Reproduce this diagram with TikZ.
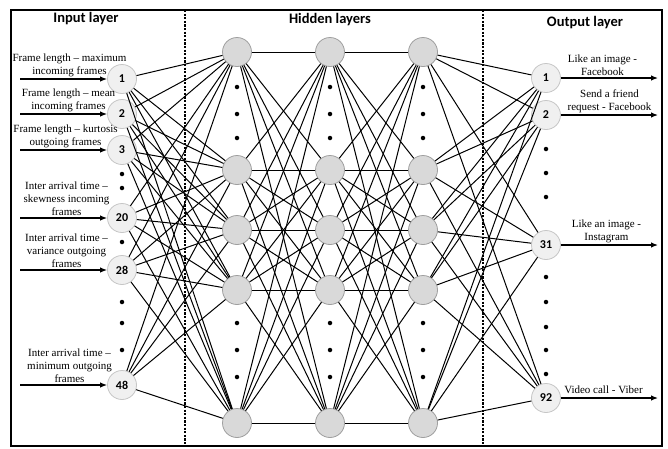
\documentclass[tikz,border=0pt]{standalone}
\usepackage{fontspec}
\setmainfont{Liberation Serif}
\newfontfamily\calibri{Carlito}
\usetikzlibrary{arrows.meta}

\begin{document}
\begin{tikzpicture}[
            x=1pt, y=-1pt,
            every node/.style={inner sep=0pt},
            endnode/.style={circle, draw=gray!45, fill=gray!12, minimum size=29pt, line width=0.8pt, font=\calibri\bfseries\fontsize{12}{14}\selectfont},
            hidnode/.style={circle, draw=gray!75, fill=gray!30, minimum size=29pt, line width=0.8pt},
            dot/.style={circle, fill=black, minimum size=4.5pt},
            link/.style={line width=1pt},
            feed/.style={line width=1.2pt, -{Latex[length=7pt,width=5.5pt]}},
            caption/.style={font=\fontsize{11}{13}\selectfont, align=center, anchor=south, inner sep=1.5pt},
            title/.style={font=\calibri\bfseries\fontsize{14.5}{16}\selectfont}
            ]
            \useasboundingbox (0,0) rectangle (668,448);
            \draw[line width=1.3pt] (11,10) rectangle (662,446);
            \draw[line width=1.6pt, dash pattern=on 2.2pt off 1.4pt] (185,10) -- (185,446);
            \draw[line width=1.6pt, dash pattern=on 2.2pt off 1.4pt] (483,10) -- (483,446);

            \node[title] (inputtitle) at (86,19) {Input layer};
            \node[title] (hiddentitle) at (330,20) {Hidden layers};
            \node[title] (outputtitle) at (585,23) {Output layer};

            % input layer
            \foreach \i/\y/\t in {1/79/1, 2/114/2, 3/150/3, 4/218/20, 5/270/28, 6/385/48}{
                \node[endnode] (inputnode-\i) at (122,\y) {\t};
                \coordinate (source-\i) at (20,\y);
            }
            \foreach \y in {174,188,242,302,323,350}{
                \node[dot] at (122,\y) {};
            }

            % hidden layers
            \foreach \c/\x in {1/237, 2/330, 3/423}{
                \foreach \r/\y in {1/52, 2/170, 3/230, 4/290, 5/423}{
                    \node[hidnode] (hiddennode\c-\r) at (\x,\y) {};
                }
                \foreach \y in {87,114,138,323,350,377}{
                    \node[dot] at (\x,\y) {};
                }
            }

            % output layer
            \foreach \i/\y/\t in {1/78/1, 2/115/2, 3/245/31, 4/398/92}{
                \node[endnode] (outputnode-\i) at (546,\y) {\t};
                \coordinate (target-\i) at (658,\y);
            }
            \foreach \y in {149,173,197,277,302,327,350,374}{
                \node[dot] at (546,\y) {};
            }

            % connections
            \foreach \i in {1,...,6}{
                \foreach \r in {1,...,5}{
                    \draw[link] (inputnode-\i) -- (hiddennode1-\r);
                }
            }
            \foreach \a/\b in {1/2, 2/3}{
                \foreach \r in {1,...,5}{
                    \foreach \s in {1,...,5}{
                        \draw[link] (hiddennode\a-\r) -- (hiddennode\b-\s);
                    }
                }
            }
            \foreach \r in {1,...,5}{
                \foreach \i in {1,...,4}{
                    \draw[link] (hiddennode3-\r) -- (outputnode-\i);
                }
            }

            % incoming features
            \draw[feed] (source-1) -- (inputnode-1) node[caption, midway, xshift=6pt] {Frame length -- maximum\\incoming frames};
            \draw[feed] (source-2) -- (inputnode-2) node[caption, midway, xshift=5pt] {Frame length -- mean\\incoming frames};
            \draw[feed] (source-3) -- (inputnode-3) node[caption, midway, xshift=2pt] {Frame length -- kurtosis\\outgoing frames};
            \draw[feed] (source-4) -- (inputnode-4) node[caption, midway, xshift=3pt] {Inter arrival time --\\skewness incoming\\frames};
            \draw[feed] (source-5) -- (inputnode-5) node[caption, midway, xshift=3pt] {Inter arrival time --\\variance outgoing\\frames};
            \draw[feed] (source-6) -- (inputnode-6) node[caption, midway, xshift=6pt] {Inter arrival time --\\minimum outgoing\\frames};

            % predicted classes
            \draw[feed] (outputnode-1) -- (target-1) node[caption, midway, xshift=-7pt] {Like an image -\\Facebook};
            \draw[feed] (outputnode-2) -- (target-2) node[caption, midway] {Send a friend\\request - Facebook};
            \draw[feed] (outputnode-3) -- (target-3) node[caption, midway, xshift=-3pt] {Like an image -\\Instagram};
            \draw[feed] (outputnode-4) -- (target-4) node[caption, midway, xshift=-6pt, yshift=2pt] {Video call - Viber};
        \end{tikzpicture}
\end{document}
